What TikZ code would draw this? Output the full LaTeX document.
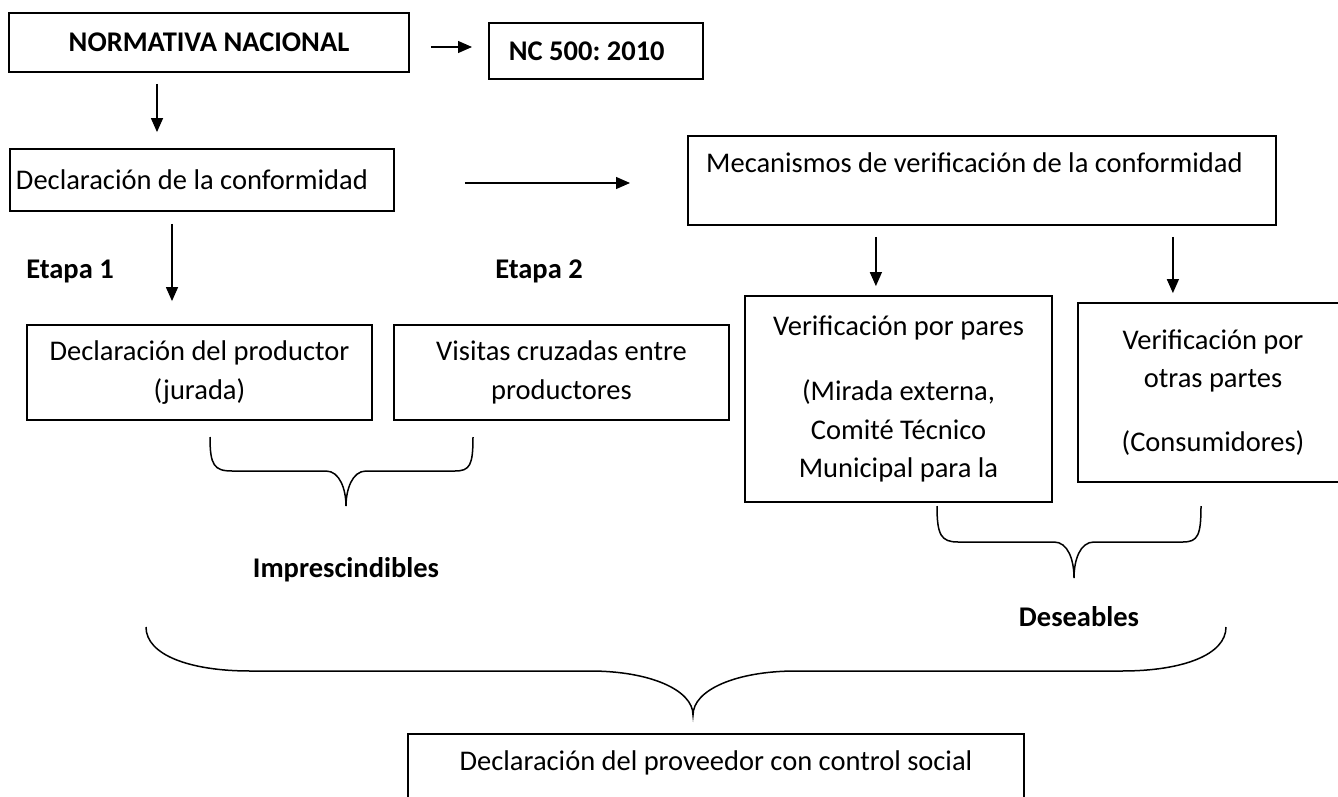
\documentclass[tikz,border=0pt]{standalone}
\usepackage{fontspec}
\setmainfont{Carlito}
\usetikzlibrary{arrows.meta}
\frenchspacing

\begin{document}
\begin{tikzpicture}[
  x=1pt, y=-1pt,
  every node/.style={font=\fontsize{28.5}{38.5}\selectfont},
  box/.style={draw, line width=1.8pt, inner sep=0pt, align=center},
  arr/.style={-{Triangle[length=14pt, width=12pt]}, line width=1.3pt},
  tag/.style={font=\fontsize{28.5}{38.5}\selectfont\bfseries},
  brace/.style={line width=1.5pt},
]

% Page: 1 unit = 1 pixel of the reference
\useasboundingbox (0,0) rectangle (1338,797);
\clip (0,0) rectangle (1338,797);

% Top row
\node[box, minimum width=400pt, minimum height=59pt, font=\fontsize{28.5}{38.5}\selectfont\bfseries] (nn) at (209,42.5) {NORMATIVA NACIONAL};
\node[box, anchor=west, minimum height=56pt, text width=174pt, inner xsep=20pt, align=flush left, font=\fontsize{28.5}{38.5}\selectfont\bfseries] (nc) at (488,51) {NC 500: 2010};

% Second row
\node[box, minimum width=384pt, minimum height=62pt, text width=372pt, inner xsep=6pt, align=flush left] (decl) at (202,180) {Declaración de la conformidad};
\node[box, anchor=north west, minimum width=588pt, minimum height=89pt] (mec) at (687,135) {};
\node[anchor=west, inner sep=0pt] (mectxt) at (706,163) {Mecanismos de verificación de la conformidad};

% Stage labels
\node[tag] (etapa1) at (70,271) {Etapa 1};
\node[tag] (etapa2) at (539,271) {Etapa 2};

% Third row
\node[box, minimum width=345pt, minimum height=95pt] (prod) at (199.5,372.5) {Declaración del productor\\(jurada)};
\node[box, minimum width=335pt, minimum height=95pt] (vis) at (561.5,372.5) {Visitas cruzadas entre\\productores};
\node[box, minimum width=307pt, minimum height=206pt] (pares) at (898.5,399) {Verificación por pares\\[27pt](Mirada externa,\\Comité Técnico\\Municipal para la};
\node[box, minimum width=270pt, minimum height=179pt] (otras) at (1213,392.5) {Verificación por\\otras partes\\[25pt](Consumidores)};

% Bottom box
\node[box, anchor=north, minimum width=616pt, minimum height=100pt] (prov) at (716,733) {};
\node[inner sep=0pt] (provtxt) at (716,763) {Declaración del proveedor con control social};

% Arrows
\draw[arr, shorten <=21pt, shorten >=16pt] ([yshift=-4.5pt]nn.east) -- ([yshift=-4.5pt]nn.east -| nc.west);
\draw[arr, shorten <=11pt, shorten >=16pt] ([xshift=-52pt]nn.south) -- ([xshift=-52pt]nn.south |- decl.north);
\draw[arr, shorten <=70pt, shorten >=57pt] ([yshift=-3pt]decl.east) -- ([yshift=-3pt]decl.east -| mec.west);
\draw[arr, shorten <=12pt, shorten >=23pt] ([xshift=-30pt]decl.south) -- ([xshift=-30pt]decl.south |- prod.north);
\draw[arr, shorten <=11pt, shorten >=9pt] ([xshift=-106pt]mec.south) -- ([xshift=-106pt]mec.south |- pares.north);
\draw[arr, shorten <=11pt, shorten >=9pt] ([xshift=191pt]mec.south) -- ([xshift=191pt]mec.south |- otras.north);

% Braces
\draw[brace] (210,437) .. controls (210,465) and (214,471) .. (232,471) -- (326,471)
  .. controls (340,471) and (346,490) .. (346,506)
  .. controls (346,490) and (352,471) .. (366,471) -- (455,471)
  .. controls (470,471) and (473,465) .. (473,437);
\node[tag] (impr) at (346,570) {Imprescindibles};

\draw[brace] (937,506) .. controls (937,535) and (941,542) .. (958,542) -- (1054,542)
  .. controls (1068,542) and (1074,560) .. (1074,578)
  .. controls (1074,560) and (1080,542) .. (1094,542) -- (1183,542)
  .. controls (1198,542) and (1201,535) .. (1201,506);
\node[tag] (des) at (1079,617) {Deseables};

\draw[brace] (146,627) .. controls (146,655) and (190,671) .. (250,671) -- (590,671)
  .. controls (650,671) and (693,690) .. (693,715)
  .. controls (693,690) and (736,671) .. (796,671) -- (1122,671)
  .. controls (1182,671) and (1226,655) .. (1226,627);

\end{tikzpicture}
\end{document}
